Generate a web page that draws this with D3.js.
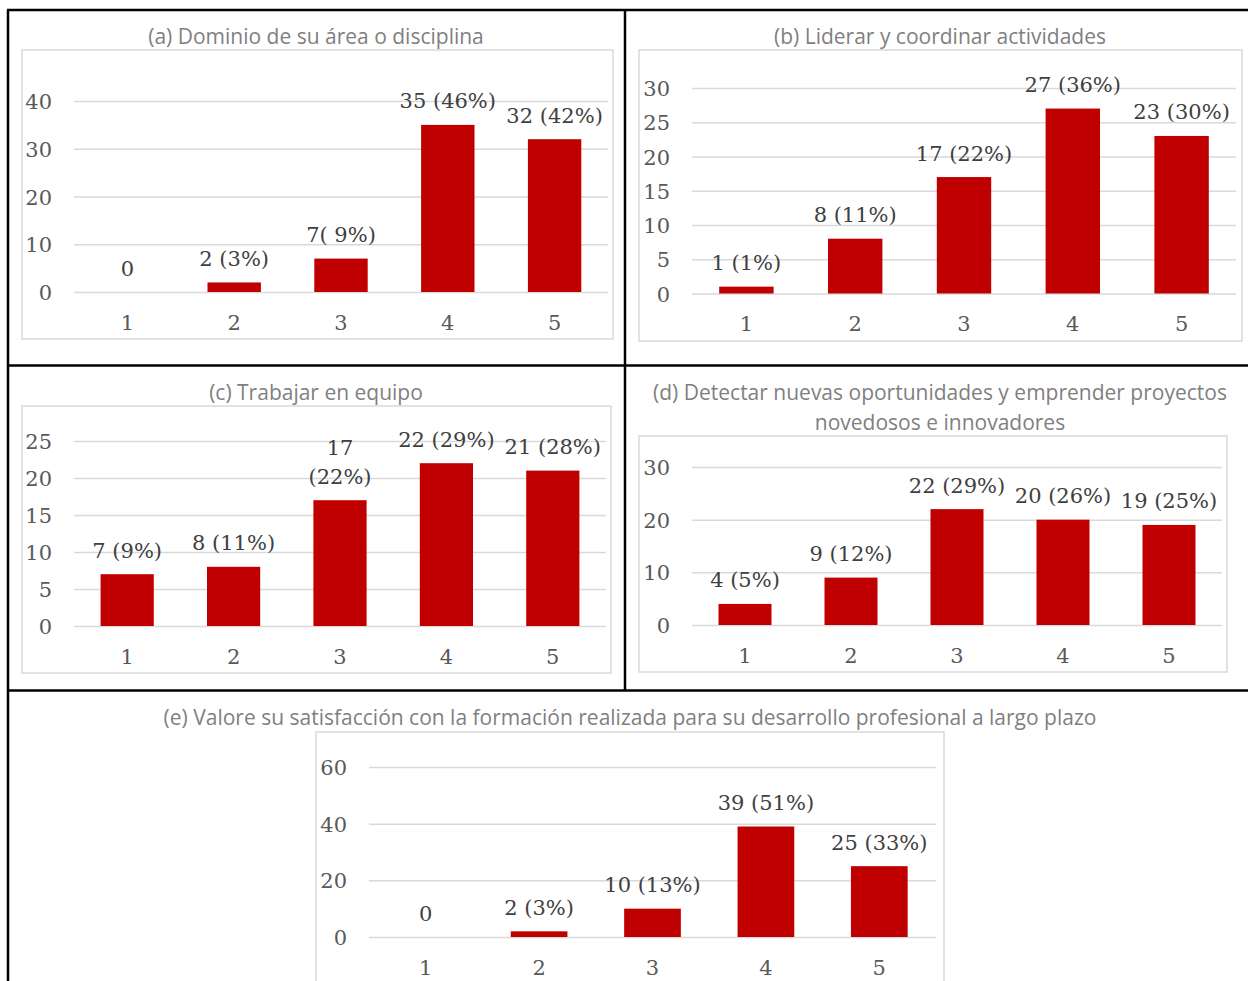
<!DOCTYPE html>
<html>
<head>
<meta charset="utf-8">
<script src="https://cdn.jsdelivr.net/npm/d3@7"></script>
<style>
  html, body { margin: 0; padding: 0; background: #fff; }
  svg { display: block; }
  .title { font-family: "Open Sans", sans-serif; font-size: 21px; fill: #7f7f7f; }
  .tick-label { font-family: "DejaVu Serif", serif; font-size: 21px; fill: #595959; }
  .data-label { font-family: "DejaVu Serif", serif; font-size: 21px; fill: #404040; }
</style>
</head>
<body>
<svg id="chart" width="1248" height="981"></svg>
<script>
(function () {
  "use strict";

  // data
  const categories = ["1", "2", "3", "4", "5"];

  const titlesA = ["(a) Dominio de su área o disciplina"];
  const countsA = [0, 2, 7, 35, 32];
  const labelsA = ["0", "2 (3%)", "7( 9%)", "35 (46%)", "32 (42%)"];
  const ticksA = [0, 10, 20, 30, 40];

  const titlesB = ["(b) Liderar y coordinar actividades"];
  const countsB = [1, 8, 17, 27, 23];
  const labelsB = ["1 (1%)", "8 (11%)", "17 (22%)", "27 (36%)", "23 (30%)"];
  const ticksB = [0, 5, 10, 15, 20, 25, 30];

  const titlesC = ["(c) Trabajar en equipo"];
  const countsC = [7, 8, 17, 22, 21];
  const labelsC = ["7 (9%)", "8 (11%)", "17\n(22%)", "22 (29%)", "21 (28%)"];
  const ticksC = [0, 5, 10, 15, 20, 25];

  const titlesD = ["(d) Detectar nuevas oportunidades y emprender proyectos", "novedosos e innovadores"];
  const countsD = [4, 9, 22, 20, 19];
  const labelsD = ["4 (5%)", "9 (12%)", "22 (29%)", "20 (26%)", "19 (25%)"];
  const ticksD = [0, 10, 20, 30];

  const titlesE = ["(e) Valore su satisfacción con la formación realizada para su desarrollo profesional a largo plazo"];
  const countsE = [0, 2, 10, 39, 25];
  const labelsE = ["0", "2 (3%)", "10 (13%)", "39 (51%)", "25 (33%)"];
  const ticksE = [0, 20, 40, 60];

  // layout (pixels)
  const panels = [
    { titles: titlesA, counts: countsA, labels: labelsA, ticks: ticksA,
      frame: [22, 50, 591, 289], px: [74, 608], py: [292, 101], tx: 316, ty: 44 },
    { titles: titlesB, counts: countsB, labels: labelsB, ticks: ticksB,
      frame: [639, 50, 603, 291], px: [692, 1236], py: [293.5, 88], tx: 940, ty: 44 },
    { titles: titlesC, counts: countsC, labels: labelsC, ticks: ticksC,
      frame: [22, 406, 589, 267], px: [74, 606], py: [626, 441], tx: 316, ty: 400 },
    { titles: titlesD, counts: countsD, labels: labelsD, ticks: ticksD,
      frame: [639, 436, 588, 236], px: [692, 1222], py: [625, 467], tx: 940, ty: 400 },
    { titles: titlesE, counts: countsE, labels: labelsE, ticks: ticksE,
      frame: [316, 732, 628, 300], px: [369, 936], py: [937, 767], tx: 630, ty: 725 }
  ];

  const svg = d3.select("#chart");
  const BAR = "#c00000";
  const GRID = "#d9d9d9";

  function drawPanel(p) {
    const g = svg.append("g");
    const x = d3.scaleBand().domain(categories).range(p.px)
      .paddingInner(0.5).paddingOuter(0.25);
    const y = d3.scaleLinear()
      .domain([0, d3.max(p.ticks)]).range(p.py);

    g.append("rect")
      .attr("x", p.frame[0]).attr("y", p.frame[1])
      .attr("width", p.frame[2]).attr("height", p.frame[3])
      .attr("fill", "#fff").attr("stroke", GRID).attr("stroke-width", 1.5);

    g.selectAll("text.title").data(p.titles).enter().append("text")
      .attr("class", "title")
      .attr("x", p.tx).attr("y", (d, i) => p.ty + i * 30)
      .attr("text-anchor", "middle")
      .text((d) => d);

    // gridlines + y labels via axis
    const yAxis = d3.axisLeft(y).tickValues(p.ticks)
      .tickSize(-(p.px[1] - p.px[0])).tickPadding(22);
    const ya = g.append("g").attr("transform", `translate(${p.px[0]},0)`).call(yAxis);
    ya.select(".domain").remove();
    ya.selectAll(".tick line").attr("stroke", GRID).attr("stroke-width", 1.5);
    ya.selectAll(".tick text").attr("class", "tick-label")
      .attr("fill", null).attr("font-family", null).attr("font-size", null)
      .attr("dy", "0.36em");

    const xAxis = d3.axisBottom(x).tickSize(0).tickPadding(0);
    const xa = g.append("g").attr("transform", `translate(0,${p.py[0]})`).call(xAxis);
    xa.select(".domain").remove();
    xa.selectAll(".tick text").attr("class", "tick-label")
      .attr("fill", null).attr("font-family", null).attr("font-size", null)
      .attr("y", 30).attr("dy", "0.36em");

    const rows = categories.map((c, i) => ({ c, v: p.counts[i], label: p.labels[i] }));

    g.selectAll("rect.bar").data(rows).enter().append("rect")
      .attr("class", "bar")
      .attr("x", (d) => x(d.c))
      .attr("width", x.bandwidth())
      .attr("y", (d) => y(d.v))
      .attr("height", (d) => y(0) - y(d.v))
      .attr("fill", BAR);

    const lab = g.selectAll("text.data-label").data(rows).enter().append("text")
      .attr("class", "data-label")
      .attr("text-anchor", "middle");
    lab.each(function (d) {
      const lines = d.label.split("\n");
      const base = y(d.v) - 16.5;
      d3.select(this).selectAll("tspan").data(lines).enter().append("tspan")
        .attr("x", x(d.c) + x.bandwidth() / 2)
        .attr("y", (l, i) => base - (lines.length - 1 - i) * 29)
        .text((l) => l);
    });
  }

  panels.forEach(drawPanel);

  // outer table lines
  const borders = [
    [7, 10, 1248, 10],
    [8, 10, 8, 981],
    [625, 10, 625, 690],
    [8, 365.5, 1248, 365.5],
    [8, 690.5, 1248, 690.5]
  ];
  svg.selectAll("line.border").data(borders).enter().append("line")
    .attr("class", "border")
    .attr("x1", (d) => d[0]).attr("y1", (d) => d[1])
    .attr("x2", (d) => d[2]).attr("y2", (d) => d[3])
    .attr("stroke", "#000").attr("stroke-width", 2.5);
})();
</script>
</body>
</html>
